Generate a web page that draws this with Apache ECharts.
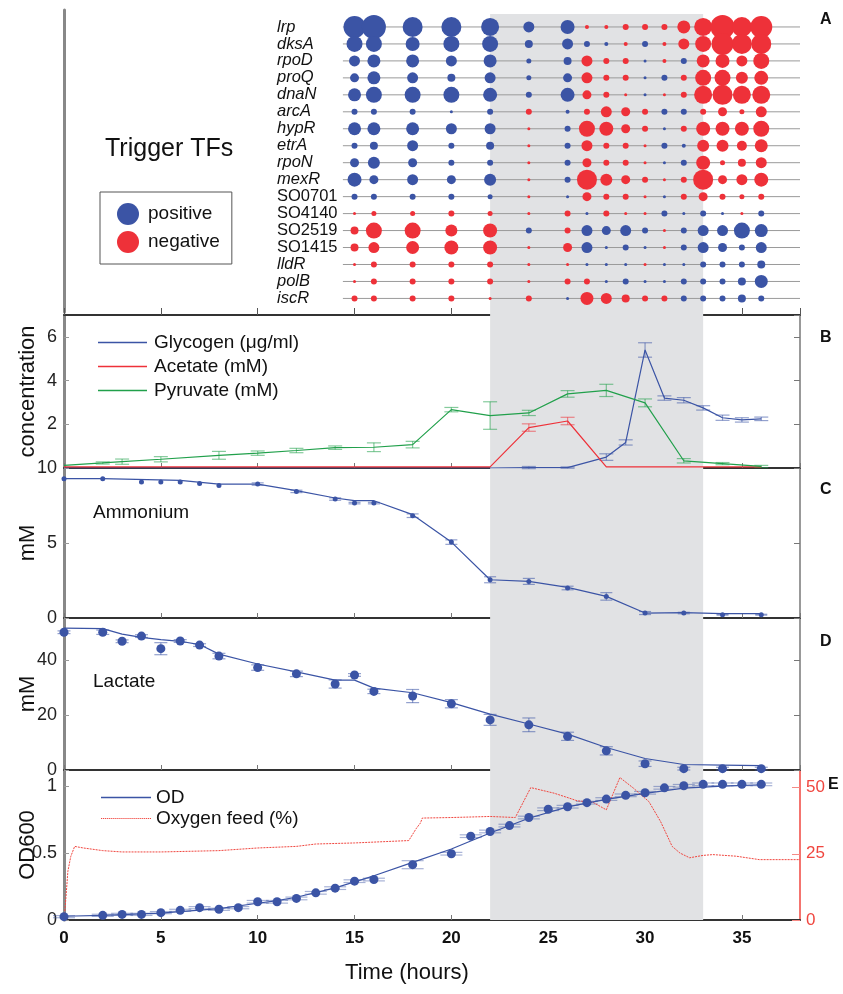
<!DOCTYPE html>
<html><head><meta charset="utf-8">
<script src="https://cdn.jsdelivr.net/npm/echarts/dist/echarts.min.js"></script>
<style>html,body{margin:0;padding:0;background:#fff}#c{width:843px;height:994px}</style>
</head><body><div id="c"></div>
<script>
// ---------------- DATA ----------------
const shadeWindow = [22, 33];

// Panel A: trigger TFs (signed score: + positive, - negative)
const genes = ['lrp','dksA','rpoD','proQ','dnaN','arcA','hypR','etrA','rpoN','mexR','SO0701','SO4140','SO2519','SO1415','lldR','polB','iscR'];
const tfTimes = [15,16,18,20,22,24,26,27,28,29,30,31,32,33,34,35,36];
const tfScores = [
  [11,12,10,10,9,5.5,7,-2,-2,-3,-3,-3,-6.5,-9,-12,-10,-11],
  [8,8,7,8,8,4,5.5,3,2,-2,3,-2,-5.5,-8,-11,-10,-10],
  [5.5,6.5,6.5,5.5,6.5,2.5,4,-5.5,-3,-3,1.5,-2,3,-6.5,-7,-5.5,-8],
  [4.5,6.5,5.5,4,5.5,2.5,4.5,-5.5,-3,-3,1.5,3,-3,-8,-8,-6,-7],
  [6.5,8,8,8,7,3,7,-4.5,-3,-1.5,1.5,-1.5,-3,-9,-10,-9,-9],
  [3,3,3,1.5,3,-3,2,-3,-5.5,-4.5,-3,3,3,-3,-4.5,-2.5,-5.5],
  [6.5,6.5,6.5,5.5,5.5,-1.5,3,-8,-7,-4.5,-3,1.5,-3,-7,-7,-7,-8],
  [3,4,5.5,3,4,-1.5,3,-5.5,-3,-3,-1.5,3,2,-6,-6,-5,-6.5],
  [4.5,6,4.5,3,3,-1.5,3,-4.5,-3,-3,-1.5,1.5,3,-7,-2.5,-4,-5.5],
  [7,4.5,5.5,4.5,6,-1.5,3,-10,-6,-4.5,-3,-1.5,-3,-10,-4.5,-5.5,-7],
  [3,3,3,3,2.5,-1.5,1.5,-4.5,-3,-3,-1.5,1.5,-3,-4.5,-3,-2.5,-3],
  [-1.5,-2.5,-2.5,-3,-2.5,-1.5,-3,1.5,-3,-1.5,-1.5,3,1.5,3,1.5,-1.5,3],
  [-4,-8,-8,-6,-7,3,-3,5.5,4.5,5.5,3,-1.5,3,5.5,5.5,8,6.5],
  [-4,-5.5,-6.5,-7,-7,-1.5,-4.5,5.5,1.5,3,1.5,-1.5,3,5.5,4.5,3,5.5],
  [-1.5,-3,-3,-3,-3,-1.5,-1.5,1.5,1.5,1.5,-1.5,1.5,1.5,3,3,3,4],
  [-1.5,-3,-3,-3,-3,-1.5,-3,-3,1.5,3,1.5,1.5,3,3,3,4,6.5],
  [-3,-3,-3,-3,-1.5,-3,1.5,-6.5,-5.5,-4,-3,-3,3,3,3,4,3]
];

// Panel B
const glyTimes = [0,22,24,26,28,29,30,31,32,33,34,35,36];
const glyValues = [0,0,0.02,0.02,0.5,1.17,5.4,3.2,3.1,2.75,2.3,2.2,2.25];
const glyErr = [0,0,0.05,0.03,0.15,0.12,0.33,0.1,0.12,0.1,0.12,0.1,0.08];
const acTimes = [0,22,24,26,28,36];
const acValues = [0.05,0.05,1.85,2.15,0.05,0.05];
const acErr = [0,0,0.17,0.17,0,0];
const pyTimes = [0,2,3,5,8,10,12,14,16,18,20,22,24,26,28,30,32,34,36];
const pyValues = [0.12,0.23,0.29,0.4,0.58,0.68,0.8,0.93,0.95,1.07,2.67,2.4,2.52,3.39,3.55,2.98,0.33,0.2,0.07];
const pyErr = [0,0.05,0.12,0.12,0.18,0.1,0.1,0.08,0.2,0.15,0.1,0.63,0.12,0.15,0.28,0.18,0.1,0.05,0.05];

// Panel C: ammonium
const amTimes = [0,2,4,5,6,7,8,10,12,14,15,16,18,20,22,24,26,28,30,32,34,36];
const amValues = [9.29,9.29,9.07,9.07,9.07,8.96,8.84,8.93,8.44,7.93,7.66,7.66,6.82,5.06,2.55,2.44,2.0,1.44,0.33,0.33,0.22,0.22];
const amErr = [0,0,0,0,0,0,0,0.08,0.08,0.08,0.05,0.05,0.12,0.15,0.2,0.2,0.12,0.25,0.1,0.05,0.03,0.03];
const amFitTimes = [0,2,6,8,10,12,14,15,16,18,20,22,24,26,28,30,32,34,36];
const amFit = [9.29,9.29,9.18,8.93,8.93,8.49,8.0,7.82,7.82,6.89,5.06,2.55,2.44,2.04,1.44,0.33,0.36,0.29,0.29];

// Panel D: lactate
const lacTimes = [0,2,3,4,5,6,7,8,10,12,14,15,16,18,20,22,24,26,28,30,32,34,36];
const lacValues = [50.3,50.3,47.0,48.9,44.3,47.1,45.6,41.6,37.4,35.1,31.4,34.7,28.7,27.0,24.2,18.3,16.5,12.3,7.0,2.3,0.5,0.5,0.5];
const lacErr = [0.5,0.8,0.5,0.5,2.2,0.5,0.5,1.0,1.0,1.0,1.5,0.5,0.8,2.4,1.5,2.0,2.5,1.5,1.5,1.0,0.5,0.5,0.5];
const lacFit = [51.8,51.6,49.6,48.4,47.6,47.0,45.8,42.3,38.7,35.8,32.8,32.8,29.9,28.2,24.6,20.4,16.8,13.1,8.2,4.2,2.0,1.8,1.6];

// Panel E: OD600 and oxygen feed
const odTimes = [0,2,3,4,5,6,7,8,9,10,11,12,13,14,15,16,18,20,21,22,23,24,25,26,27,28,29,30,31,32,33,34,35,36];
const odValues = [0.025,0.035,0.042,0.042,0.055,0.072,0.092,0.08,0.092,0.136,0.136,0.161,0.203,0.238,0.29,0.302,0.413,0.495,0.626,0.661,0.705,0.765,0.827,0.846,0.876,0.903,0.931,0.95,0.987,1.002,1.013,1.013,1.013,1.013];
const odErr = [0.008,0.008,0.008,0.008,0.008,0.008,0.008,0.008,0.008,0.01,0.01,0.01,0.01,0.01,0.01,0.01,0.03,0.01,0.01,0.01,0.01,0.01,0.01,0.01,0.01,0.01,0.01,0.01,0.01,0.01,0.01,0.01,0.01,0.01];
const odFitTimes = [0,2,5,8,10,11,12,14,16,18,20,22,24,26,28,30,32,34,36];
const odFit = [0.028,0.035,0.052,0.085,0.125,0.145,0.17,0.24,0.33,0.43,0.53,0.65,0.76,0.845,0.9,0.945,0.985,1.0,1.01];
const oxTimes = [0,0.1,0.2,0.35,0.55,1,2,3,5,8,10,12,13,15,17.8,18.2,18.4,18.5,20,22,23.3,24.1,25.3,26.1,26.5,27.3,28.0,28.7,29.4,30.2,30.8,31.4,31.8,32.3,33,33.5,34.7,35.9,38];
const oxValues = [0,8.5,18.4,24,27.8,27.2,26.2,25.7,25.7,26.2,27.2,27.8,28.7,29.1,30.0,34.7,36.6,38.5,38.7,39.1,38.7,50.0,47.9,46.0,45.0,44.5,41.6,53.8,49.8,44.7,37.2,27.8,25.3,23.5,24.4,24.7,24.1,22.8,22.8];

// ---------------- STYLE ----------------
const FONT = 'Liberation Sans, Arial, sans-serif';
const BLUE = '#3b54a5', RED = '#ee3139', GREEN = '#21a04b', OXRED = '#f0463f';
const L = 64, R = 43;
const SOLID_ICON = 'rect';
let dots = '';
for (let i = 0; i < 25; i++) dots += 'M' + (i * 2) + ',0h1.2v1h-1.2z';
const DOTTED_ICON = 'path://' + dots;

const zip = (a, b) => a.map((t, i) => [t, b[i]]);

function errBars(xi, yi, color, cap, times, vals, errs) {
  return {
    type: 'custom', xAxisIndex: xi, yAxisIndex: yi, silent: true, z: 3,
    data: times.map((t, i) => [t, vals[i], errs[i]]),
    encode: { x: 0, y: 1 },
    renderItem(params, api) {
      const x = api.value(0), y = api.value(1), e = api.value(2);
      if (!e) return null;
      const top = api.coord([x, y + e]), bot = api.coord([x, y - e]);
      const style = { stroke: color, lineWidth: 1.2, fill: null };
      return { type: 'group', children: [
        { type: 'line', shape: { x1: top[0], y1: top[1], x2: bot[0], y2: bot[1] }, style },
        { type: 'line', shape: { x1: top[0] - cap / 2, y1: top[1], x2: top[0] + cap / 2, y2: top[1] }, style },
        { type: 'line', shape: { x1: bot[0] - cap / 2, y1: bot[1], x2: bot[0] + cap / 2, y2: bot[1] }, style }
      ]};
    }
  };
}

function bottomX(gi, extra) {
  return Object.assign({
    gridIndex: gi, type: 'value', min: 0, max: 38, interval: 5,
    axisLine: { show: true, onZero: false, lineStyle: { color: '#333', width: 2 } },
    axisTick: { show: true, inside: true, length: 5, lineStyle: { color: '#777' } },
    axisLabel: { show: false }, splitLine: { show: false }
  }, extra || {});
}
function leftY(gi, min, max, interval, name, extra) {
  return Object.assign({
    gridIndex: gi, type: 'value', min, max, interval, position: 'left',
    name, nameLocation: 'middle', nameGap: 25, nameMoveOverlap: false,
    nameTextStyle: { fontFamily: FONT, fontSize: 22, color: '#111' },
    axisLine: { show: true, onZero: false, lineStyle: { color: '#888', width: 3 } },
    axisTick: { show: true, inside: true, length: 5, lineStyle: { color: '#999' } },
    axisLabel: { fontFamily: FONT, fontSize: 18, color: '#222', margin: 7, showMaxLabel: false },
    splitLine: { show: false }
  }, extra || {});
}
function rightY(gi, min, max, interval) {
  return {
    gridIndex: gi, type: 'value', min, max, interval, position: 'right',
    axisLine: { show: true, onZero: false, lineStyle: { color: '#777', width: 1.5 } },
    axisTick: { show: true, inside: true, length: 6, lineStyle: { color: '#777' } },
    axisLabel: { show: false }, splitLine: { show: false }
  };
}
function gridBox(top, height) {
  return { left: L, right: R, top, height, containLabel: false, outerBoundsMode: 'none' };
}

// dots for panel A
const posDots = [], negDots = [];
tfScores.forEach((row, r) => row.forEach((v, c) => {
  (v > 0 ? posDots : negDots).push([tfTimes[c], r, v]);
}));
const rowLines = genes.map((g, r) => ({
  type: 'line', xAxisIndex: 1, yAxisIndex: 1, silent: true, symbol: 'none', z: 1,
  lineStyle: { color: '#9a9a9a', width: 1 },
  data: [[14.4, r], [38, r]]
}));

const option = {
  animation: false,
  backgroundColor: '#fff',
  grid: [
    gridBox(14, 906),   // shade
    gridBox(10, 302),   // A
    gridBox(315, 153),  // B
    gridBox(468, 150),  // C
    gridBox(618, 152),  // D
    gridBox(770, 150)   // E
  ],
  xAxis: [
    { gridIndex: 0, type: 'value', min: 0, max: 38, show: false },
    { gridIndex: 1, type: 'value', min: 0, max: 38, show: false },
    bottomX(2),
    bottomX(2, { position: 'top', axisTick: { show: true, inside: false, length: 7, lineStyle: { color: '#555' } } }),
    bottomX(3),
    bottomX(4),
    bottomX(5, {
      axisLabel: { show: true, fontFamily: FONT, fontSize: 17, fontWeight: 'bold', color: '#111', margin: 10, showMaxLabel: false },
      name: 'Time (hours)', nameLocation: 'middle', nameGap: 42, nameMoveOverlap: false,
      nameTextStyle: { fontFamily: FONT, fontSize: 22, color: '#111', padding: [0, 50, 0, 0] }
    })
  ],
  yAxis: [
    { gridIndex: 0, type: 'value', min: 0, max: 1, show: false },
    {
      gridIndex: 1, type: 'value', min: -1, max: 16.8, interval: 1, inverse: true,
      axisLine: { show: true, lineStyle: { color: '#888', width: 3 } },
      axisTick: { show: false }, splitLine: { show: false },
      axisLabel: {
        align: 'left', margin: -213,
        formatter: v => {
          const i = Math.round(v);
          if (Math.abs(v - i) > 1e-6 || i < 0 || i >= genes.length) return '';
          return genes[i].startsWith('SO') ? '{n|' + genes[i] + '}' : '{i|' + genes[i] + '}';
        },
        rich: {
          i: { fontFamily: FONT, fontSize: 16.5, fontStyle: 'italic', color: '#111' },
          n: { fontFamily: FONT, fontSize: 16.5, color: '#111' }
        }
      }
    },
    leftY(2, 0, 7, 2, 'concentration', {
      axisLabel: { fontFamily: FONT, fontSize: 18, color: '#222', margin: 7, showMaxLabel: false, showMinLabel: false }
    }),
    rightY(2, 0, 7, 2),
    leftY(3, 0, 10, 5, 'mM', {
      axisLabel: { fontFamily: FONT, fontSize: 18, color: '#222', margin: 7 }
    }),
    rightY(3, 0, 10, 5),
    leftY(4, 0, 55.5, 20, 'mM'),
    rightY(4, 0, 55.5, 20),
    leftY(5, 0, 1.12, 0.5, 'OD600'),
    {
      gridIndex: 5, type: 'value', min: 0, max: 56.65, interval: 25, position: 'right',
      axisLine: { show: true, onZero: false, lineStyle: { color: OXRED, width: 1.5 } },
      axisTick: { show: true, inside: true, length: 8, lineStyle: { color: '#f58a85' } },
      axisLabel: { fontFamily: FONT, fontSize: 17, color: OXRED, margin: 6, showMaxLabel: false },
      splitLine: { show: false }
    }
  ],
  legend: [
    {
      data: ['positive', 'negative'], orient: 'vertical', left: 100, top: 192,
      itemWidth: 22, itemHeight: 22, itemGap: 6, icon: 'circle',
      padding: [11, 12, 11, 17], borderColor: '#555', borderWidth: 1,
      textStyle: { fontFamily: FONT, fontSize: 19, color: '#111', padding: [0, 0, 0, 4] },
      selectedMode: false
    },
    {
      data: [
        { name: 'Glycogen (μg/ml)', icon: SOLID_ICON },
        { name: 'Acetate (mM)', icon: SOLID_ICON },
        { name: 'Pyruvate (mM)', icon: SOLID_ICON }
      ], orient: 'vertical',
      left: 98, top: 333, itemWidth: 49, itemHeight: 1.5, itemGap: 5, padding: 0,
      textStyle: { fontFamily: FONT, fontSize: 19, color: '#111', padding: [0, 0, 0, 2] }, selectedMode: false
    },
    {
      data: [
        { name: 'OD', icon: SOLID_ICON },
        { name: 'Oxygen feed (%)', icon: DOTTED_ICON }
      ], orient: 'vertical',
      left: 101, top: 788, itemWidth: 50, itemHeight: 1.5, itemGap: 2, padding: 0,
      textStyle: { fontFamily: FONT, fontSize: 19, color: '#111' }, selectedMode: false
    }
  ],
  graphic: [
    { type: 'text', left: 105, top: 137, style: { text: 'Trigger TFs', font: '25px ' + FONT, fill: '#111' } },
    { type: 'text', left: 93, top: 503, style: { text: 'Ammonium', font: '19px ' + FONT, fill: '#111' } },
    { type: 'text', left: 93, top: 672, style: { text: 'Lactate', font: '19px ' + FONT, fill: '#111' } },
    { type: 'text', left: 820, top: 12, style: { text: 'A', font: 'bold 16px ' + FONT, fill: '#111' } },
    { type: 'text', left: 820, top: 330, style: { text: 'B', font: 'bold 16px ' + FONT, fill: '#111' } },
    { type: 'text', left: 820, top: 482, style: { text: 'C', font: 'bold 16px ' + FONT, fill: '#111' } },
    { type: 'text', left: 820, top: 634, style: { text: 'D', font: 'bold 16px ' + FONT, fill: '#111' } },
    { type: 'text', left: 828, top: 777, style: { text: 'E', font: 'bold 16px ' + FONT, fill: '#111' } }
  ],
  series: [
    {
      type: 'line', xAxisIndex: 0, yAxisIndex: 0, z: -1, silent: true, symbol: 'none',
      lineStyle: { opacity: 0 }, data: [[shadeWindow[0], 0], [shadeWindow[1], 0]],
      markArea: { silent: true, itemStyle: { color: '#e1e2e4' }, data: [[{ xAxis: shadeWindow[0] }, { xAxis: shadeWindow[1] }]] }
    },
    ...rowLines,
    {
      name: 'positive', type: 'scatter', xAxisIndex: 1, yAxisIndex: 1, z: 3,
      data: posDots, symbolSize: v => Math.abs(v[2]) * 2, itemStyle: { color: BLUE, opacity: 1 }
    },
    {
      name: 'negative', type: 'scatter', xAxisIndex: 1, yAxisIndex: 1, z: 3,
      data: negDots, symbolSize: v => Math.abs(v[2]) * 2, itemStyle: { color: RED, opacity: 1 }
    },
    // Panel B
    { name: 'Glycogen (μg/ml)', type: 'line', xAxisIndex: 2, yAxisIndex: 2, symbol: 'none', z: 4,
      data: zip(glyTimes, glyValues), lineStyle: { color: BLUE, width: 1.2 }, itemStyle: { color: BLUE } },
    errBars(2, 2, 'rgba(59,84,165,0.55)', 14, glyTimes, glyValues, glyErr),
    { name: 'Acetate (mM)', type: 'line', xAxisIndex: 2, yAxisIndex: 2, symbol: 'none', z: 4,
      data: zip(acTimes, acValues), lineStyle: { color: RED, width: 1.2 }, itemStyle: { color: RED } },
    errBars(2, 2, 'rgba(238,49,57,0.55)', 14, acTimes, acValues, acErr),
    { name: 'Pyruvate (mM)', type: 'line', xAxisIndex: 2, yAxisIndex: 2, symbol: 'none', z: 4,
      data: zip(pyTimes, pyValues), lineStyle: { color: GREEN, width: 1.2 }, itemStyle: { color: GREEN } },
    errBars(2, 2, 'rgba(33,160,75,0.55)', 14, pyTimes, pyValues, pyErr),
    // Panel C
    { type: 'line', xAxisIndex: 4, yAxisIndex: 4, symbol: 'none', z: 4,
      data: zip(amFitTimes, amFit), lineStyle: { color: BLUE, width: 1.2 } },
    errBars(4, 4, 'rgba(59,84,165,0.55)', 12, amTimes, amValues, amErr),
    { type: 'scatter', xAxisIndex: 4, yAxisIndex: 4, symbolSize: 5, z: 5,
      data: zip(amTimes, amValues), itemStyle: { color: BLUE, opacity: 1 } },
    // Panel D
    { type: 'line', xAxisIndex: 5, yAxisIndex: 6, symbol: 'none', z: 4,
      data: zip(lacTimes, lacFit), lineStyle: { color: BLUE, width: 1.2 } },
    errBars(5, 6, 'rgba(59,84,165,0.55)', 13, lacTimes, lacValues, lacErr),
    { type: 'scatter', xAxisIndex: 5, yAxisIndex: 6, symbolSize: 9, z: 5,
      data: zip(lacTimes, lacValues), itemStyle: { color: BLUE, opacity: 1 } },
    // Panel E
    { name: 'Oxygen feed (%)', type: 'line', xAxisIndex: 6, yAxisIndex: 9, symbol: 'none', z: 4,
      data: zip(oxTimes, oxValues), lineStyle: { color: OXRED, width: 1, type: [2, 1] }, itemStyle: { color: OXRED } },
    { name: 'OD', type: 'line', xAxisIndex: 6, yAxisIndex: 8, symbol: 'none', z: 4,
      data: zip(odFitTimes, odFit), lineStyle: { color: BLUE, width: 1.2 }, itemStyle: { color: BLUE } },
    errBars(6, 8, 'rgba(59,84,165,0.45)', 22, odTimes, odValues, odErr),
    { type: 'scatter', xAxisIndex: 6, yAxisIndex: 8, symbolSize: 9, z: 5,
      data: zip(odTimes, odValues), itemStyle: { color: BLUE, opacity: 1 } }
  ]
};

const chart = echarts.init(document.getElementById('c'), null, { renderer: 'canvas' });
chart.setOption(option);
</script>
</body></html>
